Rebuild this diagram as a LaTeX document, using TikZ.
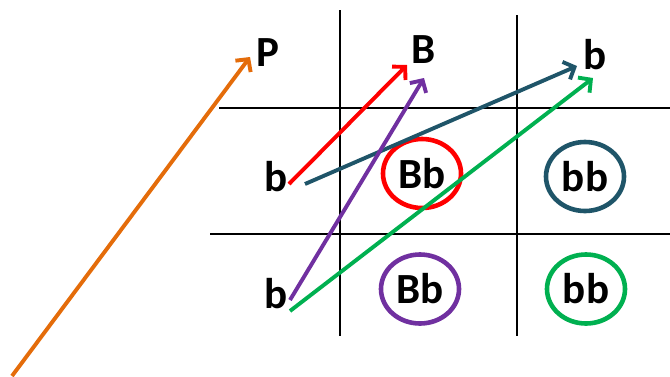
\documentclass[tikz,border=0pt]{standalone}
\usepackage{fontspec}
\setmainfont{Carlito}
\usetikzlibrary{arrows.meta,shapes.geometric}
\definecolor{cOrange}{RGB}{228,108,10}
\definecolor{cRed}{RGB}{255,0,0}
\definecolor{cPurple}{RGB}{112,48,160}
\definecolor{cTeal}{RGB}{31,85,105}
\definecolor{cGreen}{RGB}{0,176,80}
\begin{document}
\begin{tikzpicture}[x=1pt,y=-1pt,
  gridline/.style={line width=1.9pt,black},
  lbl/.style={font=\fontsize{43}{47}\selectfont\bfseries,inner sep=0pt},
  geno/.style={ellipse,draw,line width=4.6pt,minimum width=78pt,minimum height=69pt,font=\fontsize{43}{47}\selectfont\bfseries,inner sep=0pt},
  arr/.style={line width=3.9pt,-{Straight Barb[length=9pt,width=19pt,line width=3.9pt]}}]
\useasboundingbox (0,0) rectangle (670,376);
% grid
\draw[gridline] (340,10) -- (340,336);
\draw[gridline] (517,15) -- (517,336);
\draw[gridline] (219,108) -- (670,108);
\draw[gridline] (210,234) -- (670,234);
% labels
\node[lbl] (P) at (268,53) {P};
\node[lbl] (B) at (423.5,50) {B};
\node[lbl] (bc) at (595,55) {b};
\node[lbl] (br1) at (276,177) {b};
\node[lbl] (br2) at (276,294) {b};
% genotype cells
\node[geno,draw=cRed] (g11) at (422,173.5) {Bb};
\node[geno,draw=cTeal] (g12) at (585,176.5) {bb};
\node[geno,draw=cPurple] (g21) at (420,289) {Bb};
\node[geno,draw=cGreen] (g22) at (586,289) {bb};
% arrow end points
\coordinate (oS) at (12,376);
\coordinate (oE) at (250,57);
\coordinate (rS) at (289,184);
\coordinate (rE) at (407,65);
\coordinate (tS) at (305,184);
\coordinate (tE) at (577,66);
\coordinate (pS) at (290,300);
\coordinate (pE) at (424,78);
\coordinate (gS) at (290,311);
\coordinate (gE) at (593,78);
% arrows
\draw[arr,cOrange] (oS) -- (oE);
\draw[arr,cRed] (rS) -- (rE);
\draw[arr,cTeal] (tS) -- (tE);
\draw[arr,cPurple] (pS) -- (pE);
\draw[arr,cGreen] (gS) -- (gE);
\end{tikzpicture}
\end{document}
